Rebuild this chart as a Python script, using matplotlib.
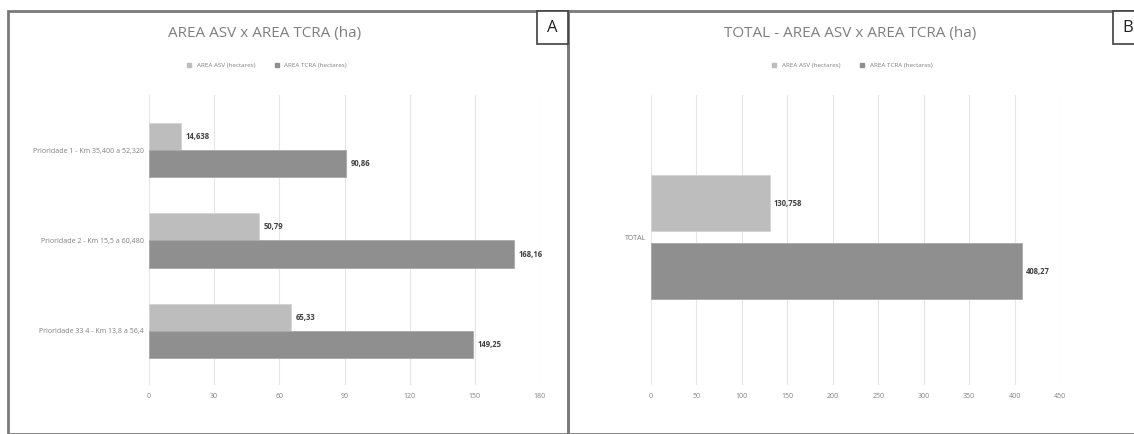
import matplotlib.pyplot as plt
from matplotlib.patches import Rectangle
from matplotlib.lines import Line2D

categories = ["Prioridade 1 - Km 35,400 a 52,320",
              "Prioridade 2 - Km 15,5 a 60,480",
              "Prioridade 33 4 - Km 13,8 a 56,4"]
asv = [14.638, 50.79, 65.33]
tcra = [90.86, 168.16, 149.25]
asv_labels = ["14,638", "50,79", "65,33"]
tcra_labels = ["90,86", "168,16", "149,25"]

total_cat = ["TOTAL"]
total_asv = [130.758]
total_tcra = [408.27]
total_asv_labels = ["130,758"]
total_tcra_labels = ["408,27"]

series_names = ["AREA ASV (hectares)", "AREA TCRA (hectares)"]
c_asv = "#bdbdbd"
c_tcra = "#8f8f8f"
txt = "#7f7f7f"

W, H = 1134, 434
fig = plt.figure(figsize=(W / 100, H / 100), dpi=100)
plt.rcParams['font.family'] = ['Open Sans', 'DejaVu Sans']


def px_axes(x0, y0, x1, y1):
    return fig.add_axes([x0 / W, 1 - y1 / H, (x1 - x0) / W, (y1 - y0) / H])


def style(ax, xmax, step):
    ax.set_xlim(0, xmax)
    ax.set_xticks(range(0, xmax + 1, step))
    ax.xaxis.grid(True, color="#e6e6e6", lw=0.8)
    ax.set_axisbelow(True)
    for s in ax.spines.values():
        s.set_visible(False)
    ax.tick_params(axis="both", length=0, labelsize=5, colors=txt)
    ax.tick_params(axis="x", pad=6)


# panel A
ax1 = px_axes(149, 95, 540, 385)
y = list(range(len(categories)))
h = 0.3
ax1.barh([i - h / 2 for i in y], asv, height=h, color=c_asv, edgecolor="#d4d4d4", lw=0.6)
ax1.barh([i + h / 2 for i in y], tcra, height=h, color=c_tcra, edgecolor="#a8a8a8", lw=0.6)
for i in y:
    ax1.text(asv[i] + 2, i - h / 2, asv_labels[i], va="center", fontsize=5.5,
             fontweight="bold", color="#404040")
    ax1.text(tcra[i] + 2, i + h / 2, tcra_labels[i], va="center", fontsize=5.5,
             fontweight="bold", color="#404040")
ax1.set_yticks(y)
ax1.set_yticklabels(categories)
ax1.set_ylim(2.6, -0.61)
style(ax1, 180, 30)

# panel B
ax2 = px_axes(651, 95, 1060, 385)
hb = 0.193
ax2.barh([-0.117], total_asv, height=hb, color=c_asv, edgecolor="#d4d4d4", lw=0.6)
ax2.barh([0.117], total_tcra, height=hb, color=c_tcra, edgecolor="#a8a8a8", lw=0.6)
ax2.text(total_asv[0] + 4, -0.117, total_asv_labels[0], va="center", fontsize=5.5,
         fontweight="bold", color="#404040")
ax2.text(total_tcra[0] + 4, 0.117, total_tcra_labels[0], va="center", fontsize=5.5,
         fontweight="bold", color="#404040")
ax2.set_yticks([0])
ax2.set_yticklabels(total_cat)
ax2.set_ylim(0.51, -0.49)
style(ax2, 450, 50)

# titles and legends
for cx, title in [(265, "AREA ASV x AREA TCRA (ha)"),
                  (850, "TOTAL - AREA ASV x AREA TCRA (ha)")]:
    fig.text(cx / W, 1 - 33 / H, title, ha="center", va="center",
             fontsize=11, color=txt)
    handles = [Line2D([], [], marker="s", ls="", color=c, markersize=3)
               for c in (c_asv, c_tcra)]
    fig.legend(handles, series_names, loc="center",
               bbox_to_anchor=(cx / W, 1 - 65 / H), ncol=2, frameon=False,
               fontsize=4.5, labelcolor=txt, handletextpad=0.2, columnspacing=2.5)

# frames
frame = dict(fill=False, edgecolor="#7a7a7a", lw=2, transform=fig.transFigure)
fig.patches.append(Rectangle((8 / W, 0), 560 / W, 1 - 11 / H, **frame))
fig.patches.append(Rectangle((568 / W, 0), 580 / W, 1 - 11 / H, **frame))
box = dict(fill=True, facecolor="white", edgecolor="#404040", lw=1.2,
           transform=fig.transFigure)
fig.patches.append(Rectangle((537 / W, 1 - 44 / H), 31 / W, 33 / H, **box))
fig.patches.append(Rectangle((1113 / W, 1 - 44 / H), 31 / W, 33 / H, **box))
fig.text(552 / W, 1 - 28 / H, "A", ha="center", va="center", fontsize=12, color="#202020")
fig.text(1128 / W, 1 - 28 / H, "B", ha="center", va="center", fontsize=12, color="#202020")

fig.savefig("out.png", dpi=100)
